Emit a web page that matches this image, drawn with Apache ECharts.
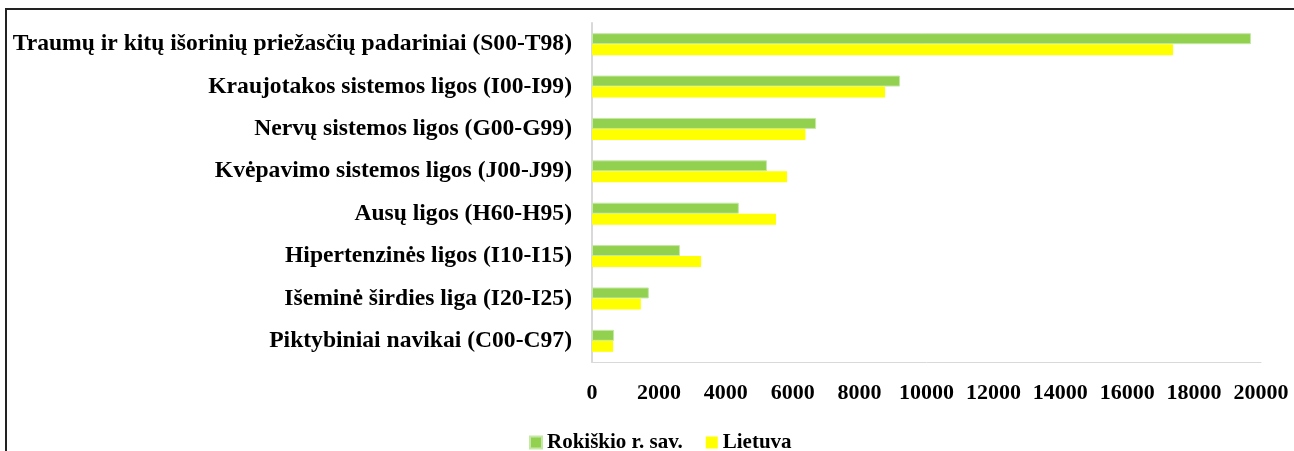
<!DOCTYPE html>
<html>
<head>
<meta charset="utf-8">
<script src="https://cdn.jsdelivr.net/npm/echarts@6/dist/echarts.min.js"></script>
<style>
	html, body { margin: 0; padding: 0; background: #fff; }
	#chart { width: 1294px; height: 451px; }
</style>
</head>
<body>
<div id="chart"></div>
<script>
var categories = [
	"Traumų ir kitų išorinių priežasčių padariniai (S00-T98)",
	"Kraujotakos sistemos ligos (I00-I99)",
	"Nervų sistemos ligos (G00-G99)",
	"Kvėpavimo sistemos ligos (J00-J99)",
	"Ausų ligos (H60-H95)",
	"Hipertenzinės ligos (I10-I15)",
	"Išeminė širdies liga (I20-I25)",
	"Piktybiniai navikai (C00-C97)"
];
var rokiskis = [19700, 9210, 6700, 5230, 4390, 2630, 1700, 660];
var lietuva = [17370, 8760, 6380, 5830, 5500, 3260, 1460, 630];
var seriesNames = ["Rokiškio r. sav.", "Lietuva"];

var font = "'Liberation Serif', 'Times New Roman', serif";
var chart = echarts.init(document.getElementById("chart"));

chart.setOption({
	animation: false,
	textStyle: { fontFamily: font },
	grid: {
		left: 592,
		right: 33,
		top: 23,
		bottom: 89
	},
	legend: {
		top: 427,
		left: 524,
		itemWidth: 12,
		itemHeight: 12,
		itemGap: 23,
		icon: "rect",
		textStyle: {
			fontFamily: font,
			fontSize: 21,
			fontWeight: "bold",
			color: "#000"
		},
		data: seriesNames
	},
	xAxis: {
		type: "value",
		min: 0,
		max: 20000,
		interval: 2000,
		splitLine: { show: false },
		axisLine: { show: true, lineStyle: { color: "#d9d9d9", width: 1 } },
		axisTick: { show: false },
		axisLabel: {
			margin: 20,
			fontFamily: font,
			fontSize: 22,
			fontWeight: "bold",
			color: "#000",
			formatter: function (v) {
				return String(v);
			}
		}
	},
	yAxis: {
		type: "category",
		inverse: true,
		data: categories,
		axisLine: { show: true, lineStyle: { color: "#d9d9d9", width: 2 } },
		axisTick: { show: false },
		axisLabel: {
			margin: 20,
			fontFamily: font,
			fontSize: 23.6,
			fontWeight: "bold",
			color: "#000"
		}
	},
	series: [
		{
			name: seriesNames[0],
			type: "bar",
			data: rokiskis,
			barWidth: 11,
			barGap: "0%",
			itemStyle: { color: "#92d050", borderColor: "#c6e8a6", borderWidth: 1 }
		},
		{
			name: seriesNames[1],
			type: "bar",
			data: lietuva,
			barWidth: 11,
			barGap: "0%",
			itemStyle: { color: "#ffff00" }
		}
	],
	graphic: [
		{
			type: "line",
			shape: { x1: 5, y1: 9, x2: 1294, y2: 9 },
			style: { stroke: "#222", lineWidth: 2 }
		},
		{
			type: "line",
			shape: { x1: 6, y1: 9, x2: 6, y2: 451 },
			style: { stroke: "#222", lineWidth: 2 }
		}
	]
});
</script>
</body>
</html>
